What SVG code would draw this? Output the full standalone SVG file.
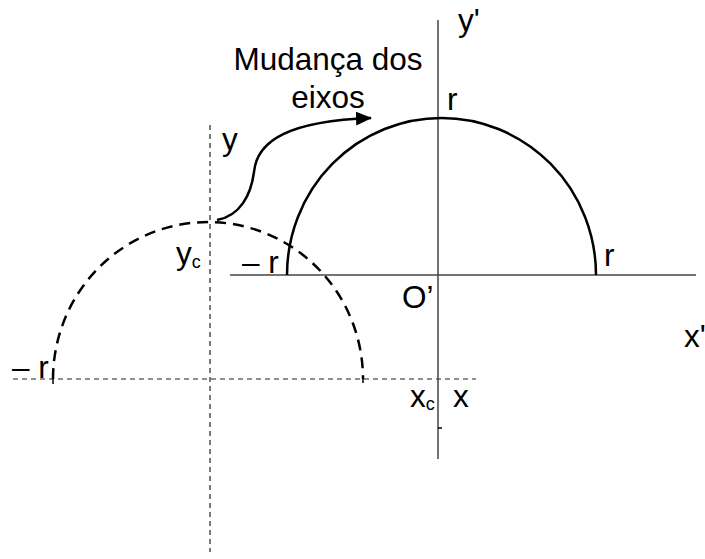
<svg xmlns="http://www.w3.org/2000/svg" width="705" height="559" viewBox="0 0 705 559">
<style>
text{font-family:"Liberation Sans",Arial,sans-serif;font-size:31.5px;fill:#000}
.sub{font-size:18px}
.ax{stroke:#444;stroke-width:1.5;fill:none}
.dax{stroke:#222;stroke-width:1.2;fill:none;stroke-dasharray:5 4}
.arc{stroke:#000;stroke-width:2.5;fill:none}
.darc{stroke:#000;stroke-width:2.5;fill:none;stroke-dasharray:11 7}
</style>
<defs>
<marker id="ah" markerWidth="16" markerHeight="14" refX="15" refY="7" orient="auto" markerUnits="userSpaceOnUse">
<path d="M0,0 L16,7 L0,14 Z" fill="#000"/>
</marker>
</defs>
<rect width="705" height="559" fill="#fff"/>
<g id="axes-old">
<line class="dax" x1="210" y1="125" x2="210" y2="552"/>
<line class="dax" x1="13" y1="379" x2="476" y2="379"/>
<line x1="53" y1="377" x2="53" y2="384" stroke="#000" stroke-width="1.5"/>
<line x1="363" y1="377" x2="363" y2="383" stroke="#000" stroke-width="1.5"/>
</g>
<g id="axes-new">
<line class="ax" x1="438" y1="20" x2="438" y2="459"/>
<line class="ax" x1="230" y1="275" x2="696" y2="275"/>
<line x1="438" y1="428" x2="442" y2="428" stroke="#000" stroke-width="1.5"/>
</g>
<g id="circle-old">
<path class="darc" d="M53,379 A155,157 0 0 1 363,379"/>
</g>
<g id="circle-new">
<path class="arc" d="M287,275 A154.5,157 0 0 1 596,275"/>
</g>
<g id="connectors">
<path d="M217,220 C240,216 251,195 254,172 C257,140 290,121 371,118" stroke="#000" stroke-width="2.5" fill="none" marker-end="url(#ah)"/>
</g>
<g id="labels">
<text x="328" y="70" text-anchor="middle">Mudança dos</text>
<text x="328" y="108" text-anchor="middle">eixos</text>
<text x="458" y="31">y'</text>
<text x="447" y="110">r</text>
<text x="222" y="150">y</text>
<text x="176" y="264">y<tspan class="sub" dy="4">c</tspan></text>
<text x="242" y="273">– r</text>
<text x="604" y="266">r</text>
<text x="402" y="308">O’</text>
<text x="684" y="347">x'</text>
<text x="12" y="378">– r</text>
<text x="410" y="407">x<tspan class="sub" dy="3">c</tspan></text>
<text x="453" y="407">x</text>
</g>
</svg>
